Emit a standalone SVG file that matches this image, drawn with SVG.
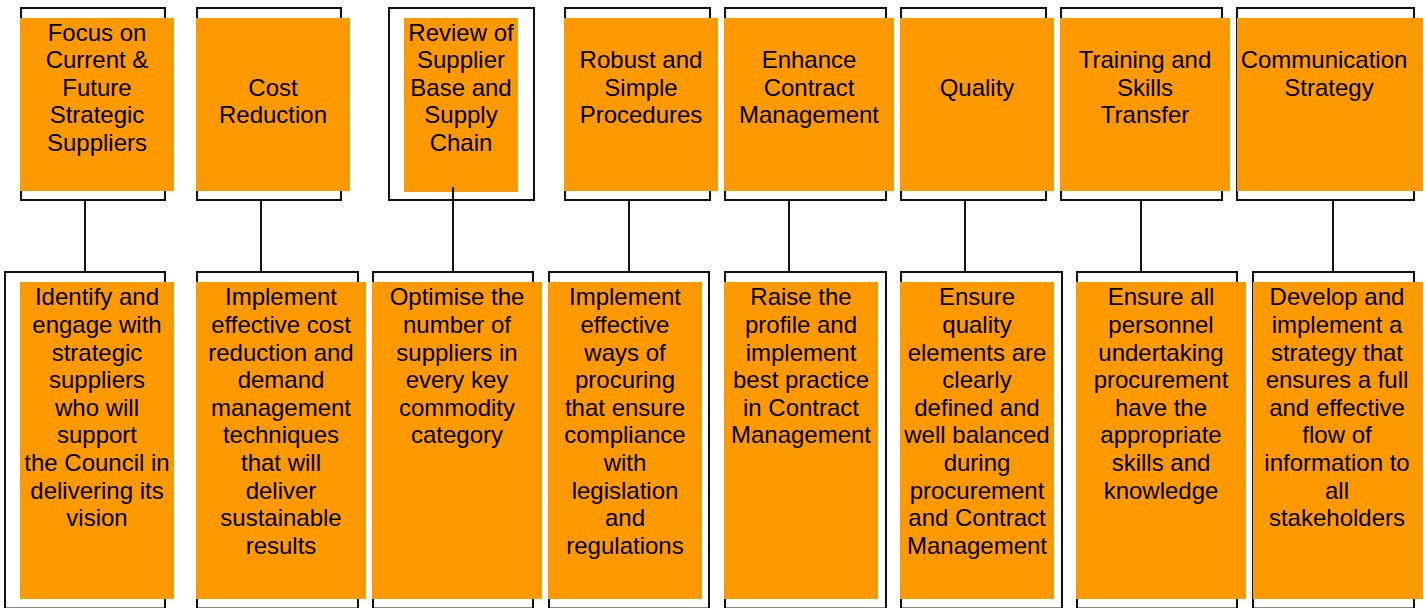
<svg xmlns="http://www.w3.org/2000/svg" width="1426" height="608" viewBox="0 0 1426 608">
<style>
.frame{fill:#ffffff;stroke:#111111;stroke-width:2}
.box{fill:#FF9900;stroke:none}
.t{font-family:"Liberation Sans",Arial,sans-serif;font-size:24px;fill:#000000;text-anchor:middle}
.conn{stroke:#111111;stroke-width:2;fill:none}
</style>
<rect width="1426" height="608" fill="#ffffff"/>
<g id="nodes">
<g id="top1"><rect class="frame" x="21" y="8" width="144" height="192"/><rect class="box" x="20" y="18" width="154" height="173"/>
<text class="t"><tspan x="97" y="40.7">Focus on</tspan><tspan x="97" y="68.2">Current &amp;</tspan><tspan x="97" y="95.7">Future</tspan><tspan x="97" y="123.2">Strategic</tspan><tspan x="97" y="150.7">Suppliers</tspan></text></g>
<g id="top2"><rect class="frame" x="197" y="8" width="144" height="192"/><rect class="box" x="196" y="18" width="154" height="173"/>
<text class="t"><tspan x="273" y="95.7">Cost</tspan><tspan x="273" y="123.2">Reduction</tspan></text></g>
<g id="top3"><rect class="frame" x="389" y="8" width="145" height="192"/><rect class="box" x="404" y="18" width="114" height="174"/>
<text class="t"><tspan x="461" y="40.7">Review of</tspan><tspan x="461" y="68.2">Supplier</tspan><tspan x="461" y="95.7">Base and</tspan><tspan x="461" y="123.2">Supply</tspan><tspan x="461" y="150.7">Chain</tspan></text></g>
<g id="top4"><rect class="frame" x="565" y="8" width="145" height="192"/><rect class="box" x="564" y="18" width="154" height="173"/>
<text class="t"><tspan x="641" y="68.2">Robust and</tspan><tspan x="641" y="95.7">Simple</tspan><tspan x="641" y="123.2">Procedures</tspan></text></g>
<g id="top5"><rect class="frame" x="725" y="8" width="161" height="192"/><rect class="box" x="724" y="18" width="170" height="173"/>
<text class="t"><tspan x="809" y="68.2">Enhance</tspan><tspan x="809" y="95.7">Contract</tspan><tspan x="809" y="123.2">Management</tspan></text></g>
<g id="top6"><rect class="frame" x="901" y="8" width="145" height="192"/><rect class="box" x="900" y="18" width="154" height="173"/>
<text class="t"><tspan x="977" y="95.7">Quality</tspan></text></g>
<g id="top7"><rect class="frame" x="1061" y="8" width="161" height="192"/><rect class="box" x="1060" y="18" width="170" height="173"/>
<text class="t"><tspan x="1145" y="68.2">Training and</tspan><tspan x="1145" y="95.7">Skills</tspan><tspan x="1145" y="123.2">Transfer</tspan></text></g>
<g id="top8"><rect class="frame" x="1237" y="8" width="177" height="192"/><rect class="box" x="1237" y="18" width="186" height="173"/>
<text class="t"><tspan x="1324" y="68.2">Communication</tspan><tspan x="1329" y="95.7">Strategy</tspan></text></g>

<g id="bot1"><rect class="frame" x="5" y="272" width="160" height="336.5"/><rect class="box" x="20" y="282" width="154" height="317"/>
<text class="t"><tspan x="97" y="305.3">Identify and</tspan><tspan x="97" y="332.9">engage with</tspan><tspan x="97" y="360.5">strategic</tspan><tspan x="97" y="388.1">suppliers</tspan><tspan x="97" y="415.7">who will</tspan><tspan x="97" y="443.3">support</tspan><tspan x="97" y="470.9">the Council in</tspan><tspan x="97" y="498.5">delivering its</tspan><tspan x="97" y="526.1">vision</tspan></text></g>
<g id="bot2"><rect class="frame" x="197" y="272" width="161" height="336.5"/><rect class="box" x="196" y="282" width="170" height="317"/>
<text class="t"><tspan x="281" y="305.3">Implement</tspan><tspan x="281" y="332.9">effective cost</tspan><tspan x="281" y="360.5">reduction and</tspan><tspan x="281" y="388.1">demand</tspan><tspan x="281" y="415.7">management</tspan><tspan x="281" y="443.3">techniques</tspan><tspan x="281" y="470.9">that will</tspan><tspan x="281" y="498.5">deliver</tspan><tspan x="281" y="526.1">sustainable</tspan><tspan x="281" y="553.7">results</tspan></text></g>
<g id="bot3"><rect class="frame" x="373" y="272" width="160" height="336.5"/><rect class="box" x="372" y="282" width="170" height="317"/>
<text class="t"><tspan x="457" y="305.3">Optimise the</tspan><tspan x="457" y="332.9">number of</tspan><tspan x="457" y="360.5">suppliers in</tspan><tspan x="457" y="388.1">every key</tspan><tspan x="457" y="415.7">commodity</tspan><tspan x="457" y="443.3">category</tspan></text></g>
<g id="bot4"><rect class="frame" x="549" y="272" width="160" height="336.5"/><rect class="box" x="548" y="282" width="154" height="317"/>
<text class="t"><tspan x="625" y="305.3">Implement</tspan><tspan x="625" y="332.9">effective</tspan><tspan x="625" y="360.5">ways of</tspan><tspan x="625" y="388.1">procuring</tspan><tspan x="625" y="415.7">that ensure</tspan><tspan x="625" y="443.3">compliance</tspan><tspan x="625" y="470.9">with</tspan><tspan x="625" y="498.5">legislation</tspan><tspan x="625" y="526.1">and</tspan><tspan x="625" y="553.7">regulations</tspan></text></g>
<g id="bot5"><rect class="frame" x="725" y="272" width="161" height="336.5"/><rect class="box" x="724" y="282" width="154" height="317"/>
<text class="t"><tspan x="801" y="305.3">Raise the</tspan><tspan x="801" y="332.9">profile and</tspan><tspan x="801" y="360.5">implement</tspan><tspan x="801" y="388.1">best practice</tspan><tspan x="801" y="415.7">in Contract</tspan><tspan x="801" y="443.3">Management</tspan></text></g>
<g id="bot6"><rect class="frame" x="901" y="272" width="161" height="336.5"/><rect class="box" x="900" y="282" width="154" height="317"/>
<text class="t"><tspan x="977" y="305.3">Ensure</tspan><tspan x="977" y="332.9">quality</tspan><tspan x="977" y="360.5">elements are</tspan><tspan x="977" y="388.1">clearly</tspan><tspan x="977" y="415.7">defined and</tspan><tspan x="977" y="443.3">well balanced</tspan><tspan x="977" y="470.9">during</tspan><tspan x="977" y="498.5">procurement</tspan><tspan x="977" y="526.1">and Contract</tspan><tspan x="977" y="553.7">Management</tspan></text></g>
<g id="bot7"><rect class="frame" x="1077" y="272" width="160" height="336.5"/><rect class="box" x="1076" y="282" width="170" height="317"/>
<text class="t"><tspan x="1161" y="305.3">Ensure all</tspan><tspan x="1161" y="332.9">personnel</tspan><tspan x="1161" y="360.5">undertaking</tspan><tspan x="1161" y="388.1">procurement</tspan><tspan x="1161" y="415.7">have the</tspan><tspan x="1161" y="443.3">appropriate</tspan><tspan x="1161" y="470.9">skills and</tspan><tspan x="1161" y="498.5">knowledge</tspan></text></g>
<g id="bot8"><rect class="frame" x="1253" y="272" width="161" height="336.5"/><rect class="box" x="1253" y="282" width="170" height="317"/>
<text class="t"><tspan x="1337" y="305.3">Develop and</tspan><tspan x="1337" y="332.9">implement a</tspan><tspan x="1337" y="360.5">strategy that</tspan><tspan x="1337" y="388.1">ensures a full</tspan><tspan x="1337" y="415.7">and effective</tspan><tspan x="1337" y="443.3">flow of</tspan><tspan x="1337" y="470.9">information to</tspan><tspan x="1337" y="498.5">all</tspan><tspan x="1337" y="526.1">stakeholders</tspan></text></g>
</g>
<g id="connectors">
<line class="conn" x1="85" y1="200" x2="85" y2="272"/>
<line class="conn" x1="261" y1="200" x2="261" y2="272"/>
<line class="conn" x1="453" y1="187" x2="453" y2="272"/>
<line class="conn" x1="629" y1="200" x2="629" y2="272"/>
<line class="conn" x1="789" y1="200" x2="789" y2="272"/>
<line class="conn" x1="965" y1="200" x2="965" y2="272"/>
<line class="conn" x1="1141" y1="200" x2="1141" y2="272"/>
<line class="conn" x1="1333" y1="200" x2="1333" y2="272"/>
</g>
</svg>
